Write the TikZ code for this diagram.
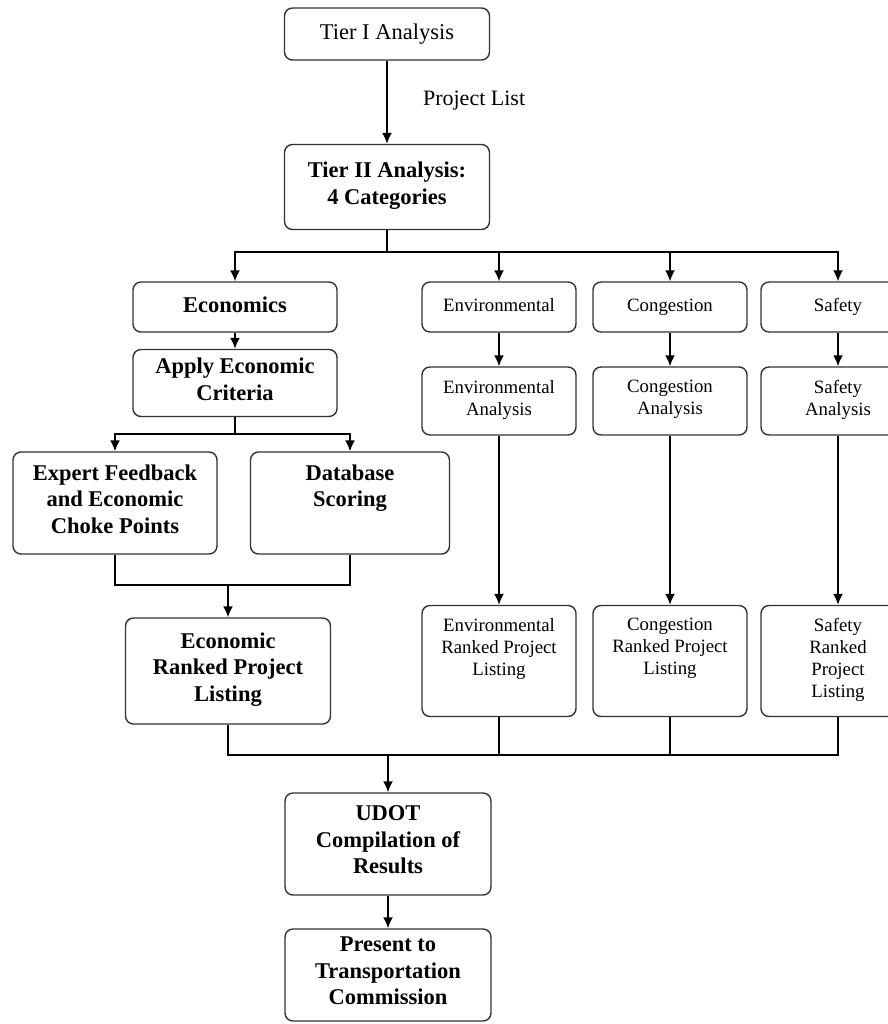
\documentclass[tikz,border=0pt]{standalone}
\usepackage{fontspec}
\setmainfont{Liberation Serif}
\usetikzlibrary{arrows.meta}

\begin{document}
\begin{tikzpicture}[
      x=0.5pt, y=-0.5pt,
      box/.style={draw=black!80, line width=0.7pt, rounded corners=4pt, align=center, inner sep=2pt,
        execute at begin node=\strut, execute at end node=\strut},
      mainbox/.style={box, minimum width=102.5pt, font=\fontsize{11.25}{13.25}\selectfont\bfseries},
      catbox/.style={box, minimum width=77pt, font=\fontsize{9.4}{11}\selectfont},
      arr/.style={-{Latex[length=5.5pt,width=5pt]}, line width=0.9pt},
      link/.style={line width=0.9pt},
      label/.style={font=\fontsize{11}{13}\selectfont}
    ]

    % Page frame
    \useasboundingbox (0,0) rectangle (888,1024);

    % Tier boxes
    \node[mainbox, font=\fontsize{11.25}{13.25}\selectfont, minimum height=26pt] (tier1) at (387,34) {Tier I Analysis};
    \node[mainbox, minimum height=42.5pt] (tier2) at (387,187) {Tier II Analysis:\\4 Categories};
    \node[label, anchor=west] (projlist) at (416,101) {Project List};

    % Economics column
    \node[mainbox, minimum width=102pt, minimum height=25pt] (econ) at (235,307) {Economics};
    \node[mainbox, minimum width=102pt, minimum height=33.5pt] (apply) at (235,383) {Apply Economic\\Criteria};
    \node[mainbox, minimum width=102pt, minimum height=51pt] (expert) at (115,503) {Expert Feedback\\and Economic\\Choke Points};
    \node[mainbox, minimum width=99.5pt, minimum height=51pt] (dbase) at (350,503) {Database\\Scoring\\};
    \node[mainbox, minimum height=53pt] (econrank) at (228,671) {Economic\\Ranked Project\\Listing};

    % Other categories
    \node[catbox, minimum height=25pt] (env) at (499,307) {Environmental};
    \node[catbox, minimum height=25pt] (cong) at (670,307) {Congestion};
    \node[catbox, minimum height=25pt] (safe) at (838,307) {Safety};

    \node[catbox, minimum height=34pt] (envan) at (499,401) {Environmental\\Analysis};
    \node[catbox, minimum height=34pt] (congan) at (670,401) {Congestion\\Analysis};
    \node[catbox, minimum height=34pt] (safean) at (838,401) {Safety\\Analysis};

    \node[catbox, minimum height=55.5pt] (envrank) at (499,661) {Environmental\\Ranked Project\\Listing\\};
    \node[catbox, minimum height=55.5pt] (congrank) at (670,661) {Congestion\\Ranked Project\\Listing\\};
    \node[catbox, minimum height=55.5pt] (saferank) at (838,661) {Safety\\Ranked\\Project\\Listing};

    % Final steps
    \node[mainbox, minimum width=103pt, minimum height=51pt] (udot) at (388,844) {UDOT\\Compilation of\\Results};
    \node[mainbox, minimum width=103pt, minimum height=46pt] (present) at (388,975) {Present to\\Transportation\\Commission};

    % Bus points
    \coordinate (busA) at (387,252);
    \coordinate (busB) at (235,434);
    \coordinate (busC) at (228,585);
    \coordinate (busD) at (388,755);

    % Connectors
    \draw[arr] (tier1) -- (tier2);
    \draw[link] (tier2.south) -- (busA);
    \draw[arr] (busA) -| (econ.north);
    \draw[arr] (busA) -| (env.north);
    \draw[arr] (busA) -| (cong.north);
    \draw[arr] (busA) -| (safe.north);

    \draw[arr] (econ) -- (apply);
    \draw[link] (apply.south) -- (busB);
    \draw[arr] (busB) -| (expert.north);
    \draw[arr] (busB) -| (dbase.north);
    \draw[link] (expert.south) |- (busC);
    \draw[link] (dbase.south) |- (busC);
    \draw[arr] (busC) -- (econrank.north);

    \draw[arr] (env) -- (envan);
    \draw[arr] (cong) -- (congan);
    \draw[arr] (safe) -- (safean);
    \draw[arr] (envan) -- (envrank);
    \draw[arr] (congan) -- (congrank);
    \draw[arr] (safean) -- (saferank);

    \draw[link] (econrank.south) |- (busD);
    \draw[link] (envrank.south) |- (busD);
    \draw[link] (congrank.south) |- (busD);
    \draw[link] (saferank.south) |- (busD);
    \draw[arr] (busD) -- (udot.north);
    \draw[arr] (udot) -- (present);

  \end{tikzpicture}
\end{document}
